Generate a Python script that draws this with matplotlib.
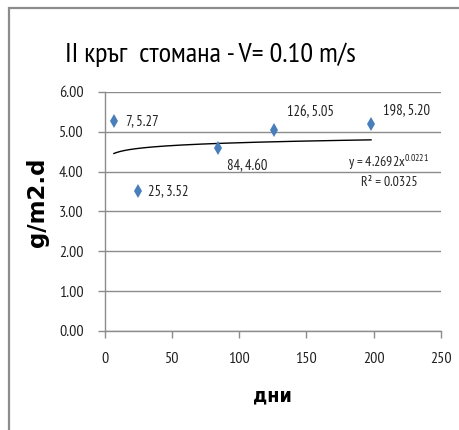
import numpy as np
import matplotlib
matplotlib.use("Agg")
import matplotlib.pyplot as plt
from matplotlib.patches import Rectangle

# данные (дни / g/m2.d)
days = [7, 25, 84, 126, 198]
rate = [5.27, 3.52, 4.60, 5.05, 5.20]
point_labels = ["7, 5.27", "25, 3.52", "84, 4.60", "126, 5.05", "198, 5.20"]
# степенной тренд из Excel: y = a * x^b
trend_a = 4.2692
trend_b = 0.0221
r2 = 0.0325

title = "II кръг  стомана - V= 0.10 m/s"
xlab = "дни"
ylab = "g/m2.d"

plt.rcParams['font.family'] = ['PT Sans Narrow', 'DejaVu Sans']
plt.rcParams['mathtext.fontset'] = 'custom'
plt.rcParams['mathtext.rm'] = 'PT Sans Narrow'
plt.rcParams['mathtext.it'] = 'PT Sans Narrow'

fig = plt.figure(figsize=(4.59, 4.30), dpi=100)
W, H = 459, 430
# рамка диаграммы
fig.patches.append(Rectangle((9 / W, -0.1), 1.2, 1.1 - 8 / H, transform=fig.transFigure,
                             fill=False, edgecolor='#8c8c8c', linewidth=1.6))

ax = fig.add_axes([104.5 / W, 1 - 331 / H, 336.5 / W, 239 / H])

xs = np.linspace(days[0], days[-1], 200)
ax.plot(xs, trend_a * xs ** trend_b, color='black', linewidth=1.0, zorder=3)
ax.plot(days, rate, linestyle='none', marker='d', markersize=7.5,
        color='#4a7ebb', markeredgewidth=0, zorder=4)

offsets = [(12, 0), (10, 0), (9, -18), (13, 18), (12, 14)]
for x, y, t, off in zip(days, rate, point_labels, offsets):
    ax.annotate(t, (x, y), xytext=off, textcoords='offset pixels',
                ha='left', va='center', fontsize=10.5, color='#222222')

ax.text((389 - 104.5) / 336.5, (331 - 163) / 239, r"y = 4.2692x$^{0.0221}$",
        transform=ax.transAxes, ha='center', va='center', fontsize=10, color='#222222')
ax.text((389 - 104.5) / 336.5, (331 - 183) / 239, "R² = %.4f" % r2,
        transform=ax.transAxes, ha='center', va='center', fontsize=10, color='#222222')

ax.set_xlim(0, 250)
ax.set_ylim(0, 6)
ax.set_xticks(np.arange(0, 251, 50))
ax.set_yticks(np.arange(0, 6.01, 1))
ax.yaxis.set_major_formatter(matplotlib.ticker.FormatStrFormatter('%.2f'))
ax.grid(axis='y', color='#8c8c8c', linewidth=1.0)
ax.set_axisbelow(True)
for s in ['top', 'right']:
    ax.spines[s].set_visible(False)
for s in ['left', 'bottom']:
    ax.spines[s].set_color('#8c8c8c')
    ax.spines[s].set_linewidth(1.0)
ax.tick_params(axis='both', direction='out', length=5, width=1.0, color='#8c8c8c',
               labelsize=11.5, labelcolor='#222222', pad=10)

fig.text(210 / W, 1 - 62 / H, title, ha='center', va='baseline', fontsize=20.5, color='black')
ax.set_xlabel(xlab, fontsize=14, fontweight='bold', family=['DejaVu Sans'],
              fontstretch='condensed', va='center')
ax.xaxis.set_label_coords((272 - 104.5) / 336.5, (331 - 396) / 239)
ax.set_ylabel(ylab, fontsize=16.5, fontweight='bold', family=['DejaVu Sans'], va='center')
ax.yaxis.set_label_coords((38 - 104.5) / 336.5, (331 - 202) / 239)

fig.savefig("out.png", dpi=100)
